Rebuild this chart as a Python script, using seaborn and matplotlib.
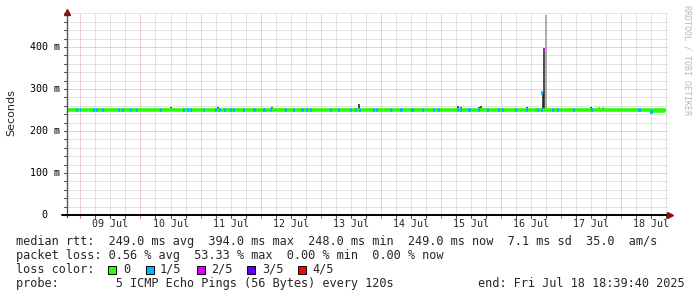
import matplotlib
matplotlib.use("Agg")
import matplotlib.pyplot as plt
from matplotlib.patches import Rectangle
from matplotlib.transforms import blended_transform_factory
import pandas as pd
import seaborn as sns

# ---------------- data ----------------
START = pd.Timestamp("2025-07-08 18:39:40")
END = pd.Timestamp("2025-07-18 18:39:40")

# median rtt segments (hours after START, ms, lost pings out of 5)
seg_start = [0.0, 3.4, 5.0, 10.2, 11.4, 13.8, 20.2, 21.8, 25.0, 27.4, 37.0, 46.2, 47.8, 49.0,
             54.2, 59.0, 60.6, 62.6, 65.0, 66.2, 70.2, 74.2, 78.2, 81.0, 87.0, 90.2, 93.6,
             95.4, 97.0, 105.0, 108.2, 113.0, 115.0, 116.6, 122.2, 123.4, 129.0, 133.0,
             137.4, 141.8, 146.2, 148.2, 155.6, 157.0, 160.2, 164.2, 167.8, 172.2, 173.8,
             179.0, 183.4, 187.8, 189.4, 189.4, 190.0, 193.8, 195.8, 202.2, 209.4, 212.2,
             213.6, 228.2, 232.8, 234.0]
seg_end = [239.2, 4.2, 5.6, 11.0, 12.2, 14.6, 21.0, 22.6, 25.8, 28.2, 37.8, 47.0, 48.6, 49.8,
           55.0, 59.8, 61.4, 63.4, 66.0, 67.0, 71.0, 75.4, 79.4, 82.0, 88.0, 91.0, 94.6,
           96.2, 97.8, 105.8, 109.0, 113.8, 115.8, 117.4, 123.0, 124.2, 129.8, 134.0,
           138.4, 142.6, 147.0, 149.0, 156.4, 157.8, 161.2, 165.0, 168.6, 173.0, 174.6,
           179.8, 184.2, 188.6, 190.0, 190.0, 190.8, 194.6, 196.6, 203.0, 210.2, 213.0,
           214.4, 229.2, 234.0, 238.8]
seg_ms = [249, 249, 249, 249, 249, 249, 249, 249, 249, 249, 249, 249, 249, 249,
          249, 249, 249, 249, 249, 249, 249, 249, 249, 249, 249, 249, 249,
          249, 249, 249, 249, 249, 249, 249, 249, 249, 249, 249,
          249, 249, 249, 249, 249, 249, 249, 249, 249, 249, 249,
          249, 249, 249, 249, 290, 394, 249, 249, 249, 249, 252,
          252, 249, 246, 247]
seg_loss = [0, 1, 1, 1, 1, 1, 1, 1, 1, 1, 1, 1, 1, 1,
            1, 1, 1, 1, 1, 1, 1, 1, 1, 1, 1, 1, 1,
            1, 1, 1, 1, 1, 1, 1, 1, 1, 1, 1,
            1, 1, 1, 1, 1, 1, 1, 1, 1, 1, 1,
            1, 1, 1, 1, 1, 2, 1, 1, 1, 1, 0,
            0, 1, 1, 0]

# smoke (spread of single pings), hours after START, ms
smoke_hour = [41.6, 60.4, 82.0, 87.2, 116.8, 156.0, 157.2, 164.4, 165.2, 183.6, 190.0, 190.6, 209.4]
smoke_lo = [249, 249, 249, 249, 249, 249, 249, 249, 249, 249, 249, 252, 249]
smoke_hi = [258, 256, 256, 255, 264, 260, 256, 256, 259, 256, 290, 398, 256]
outlier_hour = [191.2]
outlier_lo = [249]
outlier_hi = [476]

y_ticks = [0, 100, 200, 300, 400]
y_tick_labels = ["  0", "100 m", "200 m", "300 m", "400 m"]
day_labels = ["09 Jul", "10 Jul", "11 Jul", "12 Jul", "13 Jul",
              "14 Jul", "15 Jul", "16 Jul", "17 Jul", "18 Jul"]
loss_labels = ["0", "1/5", "2/5", "3/5", "4/5"]
loss_colors = ["#26ff00", "#00b8ff", "#dd00ff", "#5e00ff", "#ff0000"]

stats_lines = [
    "median rtt:  249.0 ms avg  394.0 ms max  248.0 ms min  249.0 ms now  7.1 ms sd  35.0  am/s",
    "packet loss: 0.56 % avg  53.33 % max  0.00 % min  0.00 % now",
]
probe_text = "probe:        5 ICMP Echo Pings (56 Bytes) every 120s"
end_text = "end: Fri Jul 18 18:39:40 2025"

# ---------------- figure ----------------
sns.set_style("white")
plt.rcParams["font.family"] = ["DejaVu Sans Mono"]

W, H = 697, 297
fig = plt.figure(figsize=(W / 100, H / 100), dpi=100)
fig.patch.set_facecolor("white")
L, R, T, B = 67, 668, 13, 215
ax = fig.add_axes([L / W, 1 - B / H, (R - L) / W, (B - T) / H])
ax.set_facecolor("white")


def t(h):
    return START + pd.to_timedelta(h, unit="h")


ymax = 481
ax.set_xlim(START, END)
ax.set_ylim(0, ymax)

# grid (dotted)
grid_minor = "#c8c8c8"
grid_major = "#e89c9c"
gkw = dict(lw=0.72, ls=(0, (1, 1)), zorder=0)
for v in range(20, ymax, 20):
    if v % 100:
        ax.axhline(v, color=grid_minor, **gkw)
for v in range(100, ymax, 100):
    ax.axhline(v, color=grid_major, **gkw)
six_hours = pd.date_range(START.ceil("6h"), END, freq="6h")
midnights = pd.date_range(START.ceil("D"), END, freq="D")
for g in six_hours:
    if g.hour != 0:
        ax.axvline(g, color=grid_minor, **gkw)
for g in midnights:
    ax.axvline(g, color=grid_major, **gkw)

# smoke
ax.vlines([t(h) for h in smoke_hour], smoke_lo, smoke_hi, color="#1e1e1e", lw=1.1, zorder=2)
ax.vlines([t(h) for h in outlier_hour], outlier_lo, outlier_hi, color="#9a9a9a", lw=1.1, zorder=2)

# median line coloured by loss
rows = []
for i, (s, e, v, l) in enumerate(zip(seg_start, seg_end, seg_ms, seg_loss)):
    rows.append({"time": t(s), "ms": v, "seg": i, "loss": loss_labels[l]})
    rows.append({"time": t(e), "ms": v, "seg": i, "loss": loss_labels[l]})
df = pd.DataFrame(rows)
used = [lab for lab in loss_labels if lab in set(df["loss"])]
sns.lineplot(data=df, x="time", y="ms", hue="loss", hue_order=used,
             palette={lab: c for lab, c in zip(loss_labels, loss_colors)},
             units="seg", estimator=None, lw=2.6, legend=False, ax=ax, zorder=3,
             solid_capstyle="butt")
ax.set_xlabel("")
ax.set_ylabel("")

# axes decorations
for sp in ax.spines.values():
    sp.set_visible(False)
ax.set_xticks([])
ax.set_yticks([])
ax.plot([0, 0], [-0.01, 1.0], transform=ax.transAxes, color="#555555", lw=1.0, clip_on=False, zorder=5)
ax.plot([-0.008, 1.0], [0, 0], transform=ax.transAxes, color="#000000", lw=1.4, clip_on=False, zorder=5)
ax.plot([0], [1.005], marker="^", ms=4.5, color="#8b1010", transform=ax.transAxes, clip_on=False, zorder=6)
ax.plot([1.004], [0], marker=">", ms=4.5, color="#8b1010", transform=ax.transAxes, clip_on=False, zorder=6)

# small tick marks
ytr = blended_transform_factory(ax.transAxes, ax.transData)
for v in range(0, ymax, 20):
    ax.plot([-3 / 601, 0], [v, v], transform=ytr, color="#555555", lw=0.8, clip_on=False)
xtr = blended_transform_factory(ax.transData, ax.transAxes)
for g in six_hours:
    ax.plot([g, g], [-3 / 202, 0], transform=xtr,
            color="#d08080" if g.hour == 0 else "#555555", lw=0.8, clip_on=False)

# y tick labels
for v, lab in zip(y_ticks, y_tick_labels):
    ax.text((30 - L) / (R - L), v, lab, transform=ytr, ha="left", va="center",
            fontsize=7.2, color="black")

# x labels at noon
for g, lab in zip(midnights, day_labels):
    ax.text(g + pd.Timedelta(hours=12), -(224 - B) / (B - T), lab,
            transform=xtr, ha="center", va="center", fontsize=7.2)

ax.text(-(67 - 11) / (R - L), 0.5 - (113 - (T + B) / 2) / (B - T), "Seconds",
        transform=ax.transAxes, rotation=90, ha="center", va="center",
        fontsize=8, family="DejaVu Sans")

fig.text(686.5 / W, 1 - 60 / H, "RRDTOOL / TOBI OETIKER", rotation=270,
         ha="center", va="center", fontsize=6, color="#b8b8b8")

# legend / stats
fs = 8.55
fig.text(16 / W, 1 - 241 / H, stats_lines[0], fontsize=fs, va="center")
fig.text(16 / W, 1 - 255.5 / H, stats_lines[1], fontsize=fs, va="center")
fig.text(16 / W, 1 - 269.5 / H, "loss color:", fontsize=fs, va="center")
box_x = [108, 146, 197, 247, 298]
lab_x = [123, 160, 211, 262, 312]
for bx, lx, lab, c in zip(box_x, lab_x, loss_labels, loss_colors):
    fig.patches.append(Rectangle((bx / W, 1 - 273.5 / H), 8 / W, 8 / H,
                                 transform=fig.transFigure, facecolor=c,
                                 edgecolor="black", lw=0.7))
    fig.text(lx / W, 1 - 269.5 / H, lab, fontsize=fs, va="center")
fig.text(16 / W, 1 - 283.5 / H, probe_text, fontsize=fs, va="center")
fig.text(478 / W, 1 - 283.5 / H, end_text, fontsize=fs, va="center")

fig.savefig("out.png", dpi=100, facecolor="white")
